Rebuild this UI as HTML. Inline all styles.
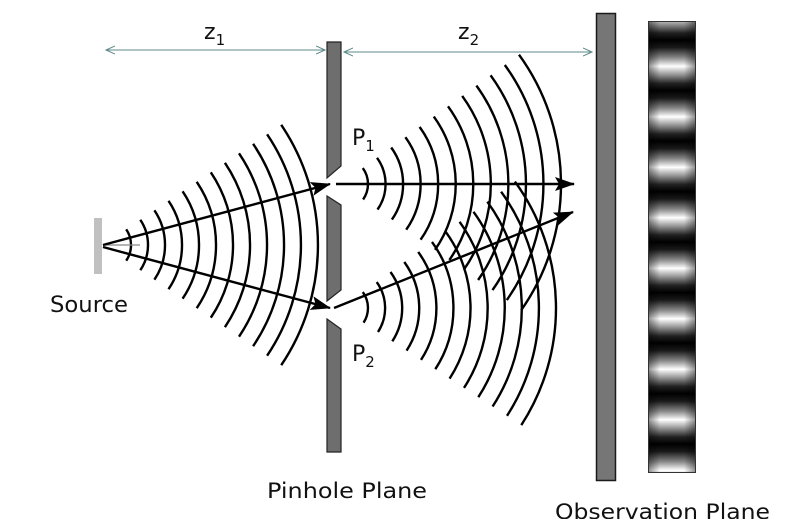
<!DOCTYPE html>
<html><head><meta charset="utf-8">
<style>
html,body{margin:0;padding:0;background:#fff;}
svg{display:block;}
text{font-family:"DejaVu Sans","Liberation Sans",sans-serif;fill:#111;}
</style></head>
<body>
<svg id="s" width="789" height="519" viewBox="0 0 789 519" xmlns="http://www.w3.org/2000/svg">
<defs>
<linearGradient id="fr" x1="0" y1="0" x2="0" y2="50.5" gradientUnits="userSpaceOnUse" spreadMethod="repeat" gradientTransform="translate(0,40)">
<stop offset="0" stop-color="#000"/>
<stop offset="0.15" stop-color="#1a1a1a"/>
<stop offset="0.35" stop-color="#888"/>
<stop offset="0.52" stop-color="#fff"/>
<stop offset="0.68" stop-color="#999"/>
<stop offset="0.86" stop-color="#222"/>
<stop offset="1" stop-color="#000"/>
</linearGradient>
<linearGradient id="hz" x1="0" y1="0" x2="1" y2="0">
<stop offset="0" stop-color="#000" stop-opacity="0.45"/>
<stop offset="0.25" stop-color="#000" stop-opacity="0"/>
<stop offset="0.75" stop-color="#000" stop-opacity="0"/>
<stop offset="1" stop-color="#000" stop-opacity="0.45"/>
</linearGradient>
<marker id="big" viewBox="0 0 20 14" markerWidth="20" markerHeight="14" refX="19" refY="7" orient="auto" markerUnits="userSpaceOnUse">
<path d="M0,0 L20,7 L0,14 L4,7 Z" fill="#000"/></marker>
<marker id="open" viewBox="0 0 10 10" markerWidth="10" markerHeight="10" refX="9" refY="5" orient="auto" markerUnits="userSpaceOnUse">
<path d="M0,1 L9,5 L0,9" fill="none" stroke="#5f8a8a" stroke-width="1"/></marker>
<marker id="open2" viewBox="0 0 10 10" markerWidth="10" markerHeight="10" refX="1" refY="5" orient="auto" markerUnits="userSpaceOnUse">
<path d="M10,1 L1,5 L10,9" fill="none" stroke="#5f8a8a" stroke-width="1"/></marker>
</defs>

<line x1="106" y1="50" x2="325" y2="50" stroke="#5f8a8a" stroke-width="1" marker-start="url(#open2)" marker-end="url(#open)"/>
<line x1="344" y1="52" x2="592" y2="52" stroke="#5f8a8a" stroke-width="1" marker-start="url(#open2)" marker-end="url(#open)"/>
<text x="204" y="39" font-size="22">z<tspan font-size="15" dy="6">1</tspan></text>
<text x="458" y="39" font-size="22">z<tspan font-size="15" dy="6">2</tspan></text>

<g id="waves" fill="none" stroke="#000" stroke-width="2.4"></g>

<rect x="94" y="218" width="8" height="56" fill="#c0c0c0"/>
<line x1="103" y1="245" x2="140" y2="245" stroke="#888" stroke-width="1.2"/>

<line x1="103" y1="245" x2="330" y2="184" stroke="#000" stroke-width="2.4" marker-end="url(#big)"/>
<line x1="103" y1="247" x2="330" y2="308" stroke="#000" stroke-width="2.4" marker-end="url(#big)"/>
<line x1="336" y1="184" x2="574" y2="184" stroke="#000" stroke-width="2.4" marker-end="url(#big)"/>
<line x1="334" y1="308" x2="573" y2="212" stroke="#000" stroke-width="2.4" marker-end="url(#big)"/>

<path d="M327,42 L341,42 L341,166 L327,178 Z" fill="#6e6e6e" stroke="#222" stroke-width="1.2"/>
<path d="M327,196 L341,205 L341,290 L327,301 Z" fill="#6e6e6e" stroke="#222" stroke-width="1.2"/>
<path d="M327,319 L341,329 L341,452 L327,452 Z" fill="#6e6e6e" stroke="#222" stroke-width="1.2"/>

<rect x="596.5" y="13.5" width="19" height="467" fill="#767676" stroke="#1a1a1a" stroke-width="1.5"/>

<rect x="648" y="21" width="48" height="452" fill="url(#fr)"/>
<rect x="648" y="21" width="48" height="452" fill="url(#hz)"/>
<rect x="648.5" y="21.5" width="47" height="451" fill="none" stroke="#333" stroke-width="1"/>

<text x="50" y="312" font-size="22" textLength="78" lengthAdjust="spacingAndGlyphs">Source</text>
<text x="352" y="145" font-size="22">P<tspan font-size="15" dy="6">1</tspan></text>
<text x="352" y="361" font-size="22">P<tspan font-size="15" dy="6">2</tspan></text>
<text x="267" y="498" font-size="21" textLength="160" lengthAdjust="spacingAndGlyphs">Pinhole Plane</text>
<text x="555" y="519" font-size="21" textLength="215" lengthAdjust="spacingAndGlyphs">Observation Plane</text>
</svg>
<script>
(function(){
 var g=document.getElementById('waves');var d='';
 function arcs(cx,cy,r0,r1,n,a1,a2){
  for(var i=0;i<n;i++){
   var r=r0+(r1-r0)*i/(n-1);
   var t1=a1*Math.PI/180,t2=a2*Math.PI/180;
   var x1=cx+r*Math.cos(t1),y1=cy+r*Math.sin(t1),x2=cx+r*Math.cos(t2),y2=cy+r*Math.sin(t2);
   d+='M'+x1.toFixed(1)+','+y1.toFixed(1)+' A'+r.toFixed(1)+','+r.toFixed(1)+' 0 0 1 '+x2.toFixed(1)+','+y2.toFixed(1)+' ';
  }
 }
 arcs(103,245,28,215,12,-34,34);
 arcs(341,184,27,220,12,-36,35);
 arcs(341,308,27,215,12,-36,33);
 var p=document.createElementNS('http://www.w3.org/2000/svg','path');
 p.setAttribute('d',d);g.appendChild(p);
})();
</script>
</body></html>
